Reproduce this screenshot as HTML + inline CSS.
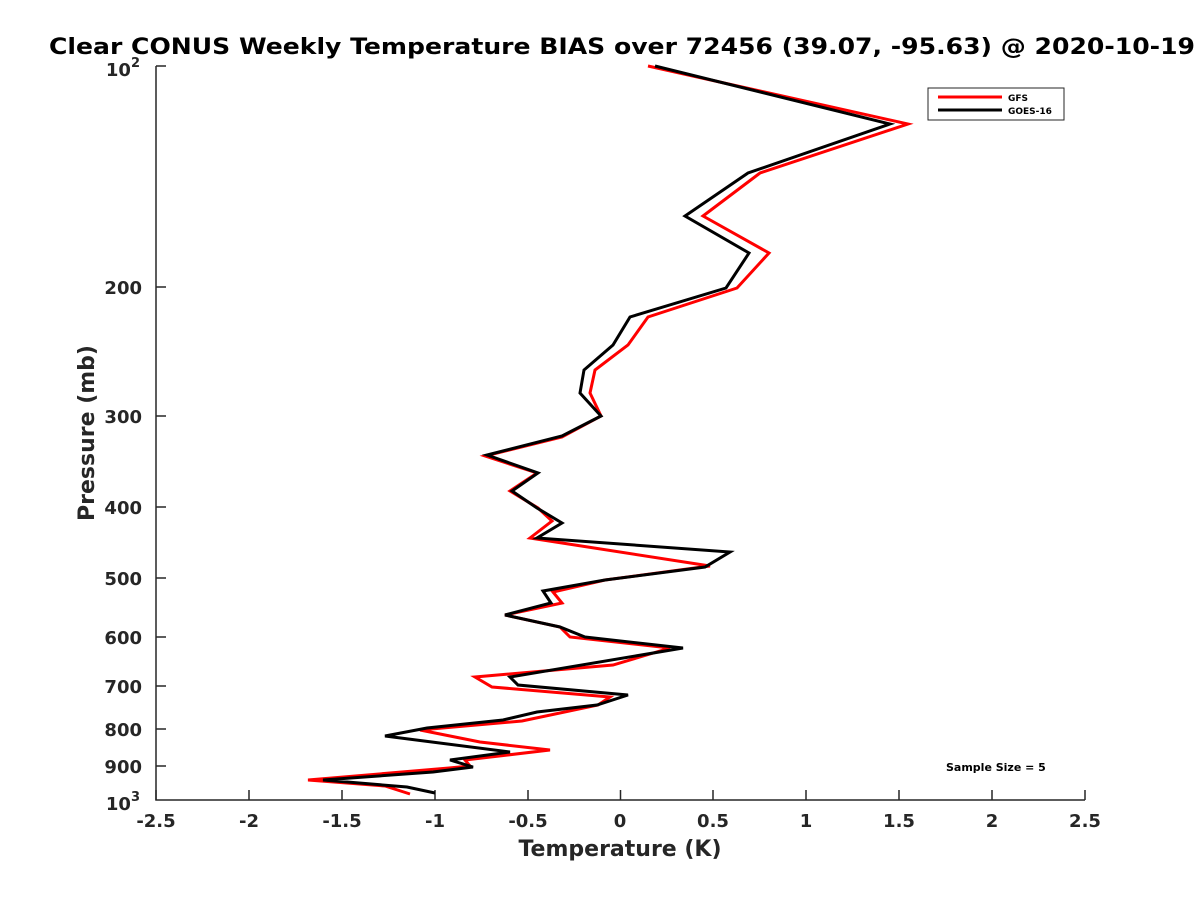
<!DOCTYPE html>
<html><head><meta charset="utf-8"><style>body{margin:0;background:#fff}svg{display:block}</style></head><body>
<svg width="1200" height="900" xmlns="http://www.w3.org/2000/svg" font-family="DejaVu Sans, Liberation Sans, sans-serif" font-weight="bold">
<rect width="1200" height="900" fill="#fff"/>
<text x="622" y="54" font-size="22" text-anchor="middle" textLength="1146" lengthAdjust="spacingAndGlyphs" fill="#000">Clear CONUS Weekly Temperature BIAS over 72456 (39.07, -95.63) @ 2020-10-19</text>
<g stroke="#262626" stroke-width="1.5" fill="none">
<path d="M156,66 V800 H1085"/>
<path d="M156,66 H166 M156,287 H166 M156,416 H166 M156,507 H166 M156,578 H166 M156,637 H166 M156,686 H166 M156,729 H166 M156,766 H166"/>
<path d="M156,800 V790 M249,800 V790 M342,800 V790 M435,800 V790 M528,800 V790 M620.5,800 V790 M713,800 V790 M806,800 V790 M899,800 V790 M992,800 V790 M1085,800 V790"/>
</g>
<g font-size="18" fill="#262626" text-anchor="end">
<text x="140" y="76">10<tspan font-size="13" dy="-9">2</tspan></text>
<text x="142" y="294">200</text><text x="142" y="423">300</text><text x="142" y="514">400</text>
<text x="142" y="585">500</text><text x="142" y="644">600</text><text x="142" y="693">700</text>
<text x="142" y="736">800</text><text x="142" y="773">900</text>
<text x="140" y="810">10<tspan font-size="13" dy="-9">3</tspan></text>
</g>
<g font-size="18" fill="#262626" text-anchor="middle">
<text x="156" y="827">-2.5</text><text x="249" y="827">-2</text><text x="342" y="827">-1.5</text><text x="435" y="827">-1</text><text x="528" y="827">-0.5</text><text x="620" y="827">0</text><text x="713" y="827">0.5</text><text x="806" y="827">1</text><text x="899" y="827">1.5</text><text x="992" y="827">2</text><text x="1085" y="827">2.5</text>
<text x="620" y="856" font-size="22">Temperature (K)</text>
<text transform="translate(94,433) rotate(-90)" font-size="22">Pressure (mb)</text>
</g>
<polyline fill="none" stroke="#f00" stroke-width="3" stroke-linejoin="miter" points="648,66 908,124 760,173 703,216 769,253 737,288 648,317 628,345 595,370 590,393 601,416 562,437 485,456 537,473 510,491 538,508 552,521 530,538 710,566 702,567 605,580 553,592 562,603 505,615 560,627 570,637 670,648 613,665 475,677 492,687 610,697 598,705 522,721 420,730 480,742 550,750 465,760 470,766 449,768 308,780 385,786 410,794"/>
<polyline fill="none" stroke="#000" stroke-width="3" points="655,66 890,124 748,173 685,216 749,253 726,288 630,317 613,345 584,370 580,393 601,416 562,436 487,455 538,473 512,491 537,508 562,523 537,538 730,552 705,567 605,580 543,591 551,603 505,615 560,627 585,637 683,648 510,677 518,685 628,695 597,705 537,712 503,720 427,728 385,736 510,752 450,760 473,767 433,772 323,780 407,787 435,793"/>
<rect x="928" y="88" width="136" height="32" fill="#fff" stroke="#262626" stroke-width="1"/>
<line x1="938" y1="97" x2="1002" y2="97" stroke="#f00" stroke-width="3"/>
<line x1="938" y1="110" x2="1002" y2="110" stroke="#000" stroke-width="3"/>
<text x="1008" y="101" font-size="9" fill="#000">GFS</text>
<text x="1008" y="114" font-size="9" fill="#000">GOES-16</text>
<text x="946" y="771" font-size="11" fill="#000">Sample Size = 5</text>
</svg>
</body></html>
